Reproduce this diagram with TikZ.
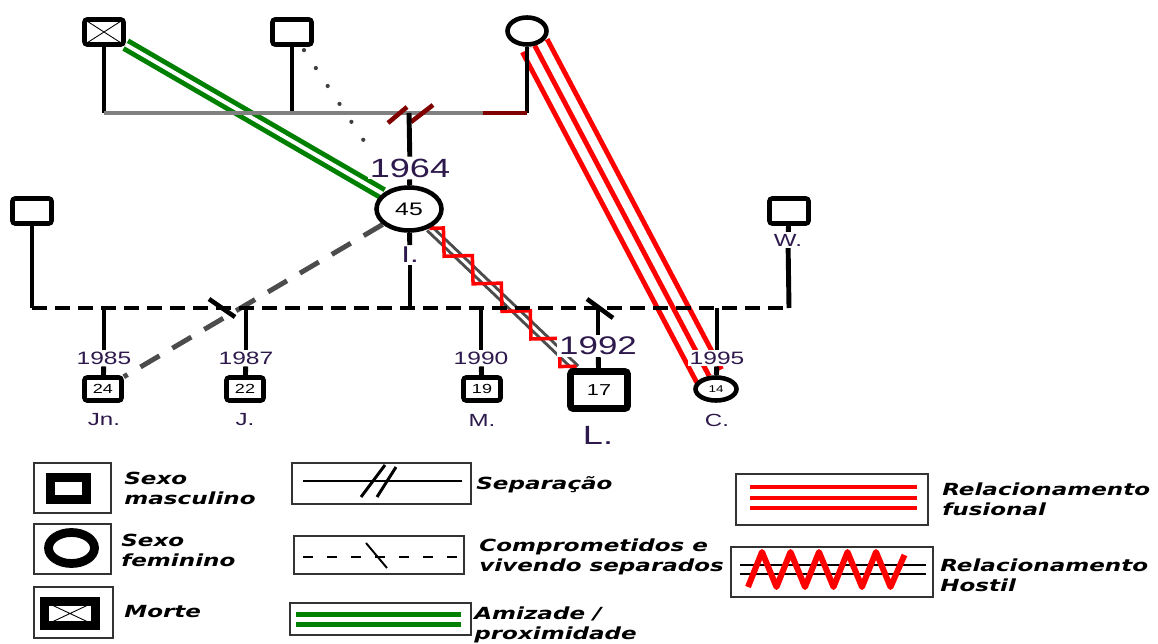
\documentclass[tikz,border=0pt]{standalone}
\usepackage{fontspec}
\setmainfont{Liberation Sans}[FakeStretch=1.37]
\newfontfamily\legendfont{DejaVu Sans}[FakeStretch=1.38]
\usetikzlibrary{shapes.geometric,decorations.pathmorphing,backgrounds}
\definecolor{yeartext}{RGB}{45,25,75}
\definecolor{sepred}{RGB}{128,0,0}

\begin{document}
\begin{tikzpicture}[
    x=0.02cm, y=-0.02cm,
    famline/.style={line width=2.8pt},
    dashline/.style={famline, dash pattern=on 0.3cm off 0.16cm},
    sepmark/.style={line width=2.6pt},
    xcross/.style={path picture={\draw[line width=0.5pt] (path picture bounding box.north west) -- (path picture bounding box.south east) (path picture bounding box.south west) -- (path picture bounding box.north east);}},
    person/.style={draw, line width=2.6pt, fill=white, inner sep=0pt},
    male/.style={person, rectangle, rounded corners=1.5pt, minimum width=0.78cm, minimum height=0.5cm},
    kid/.style={male, minimum width=0.74cm, minimum height=0.46cm, font=\fontsize{7.5}{7.5}\selectfont},
    female/.style={person, ellipse},
    dead/.style={male, xcross},
    year/.style={fill=white, inner sep=1pt, text=yeartext, font=\fontsize{10.2}{10.2}\selectfont},
    lbl/.style={inner sep=1pt, text=yeartext, font=\fontsize{10}{10}\selectfont},
    friend/.style={green!50!black, line width=2.8pt, double=white, double distance=2.2pt},
    dotline/.style={black!75, line width=2.4pt, line cap=round, dash pattern=on 0pt off 0.43cm},
    fusional/.style={red, line width=18.7pt, postaction={draw, white, line width=13pt}, postaction={draw, red, line width=2.8pt}},
    affair/.style={black!70, line width=2.8pt, dash pattern=on 0.44cm off 0.3cm},
    hostile/.style={black!70, line width=1.7pt, double=white, double distance=1.7pt},
    hostzz/.style={red, line width=2pt, decorate, decoration={zigzag, amplitude=0.2cm, segment length=0.8cm}},
    legbox/.style={draw=black!80, line width=0.8pt, inner sep=0pt},
    legsym/.style={draw, line width=5pt, fill=white, inner sep=0pt},
    legtext/.style={anchor=west, align=left, inner sep=0pt, font=\legendfont\bfseries\itshape\fontsize{9.5}{11.3}\selectfont}
]
    \useasboundingbox (0,0) rectangle (1158,644);

    % Grandparents
    \node[dead] (gf1) at (104,32) {};
    \node[male] (gf2) at (292,32) {};
    \node[female, minimum width=0.78cm, minimum height=0.54cm] (gm) at (527,31) {};

    % Parents
    \node[year, font=\fontsize{15}{15}\selectfont] (y64) at (410,168) {1964};
    \node[female, minimum width=1.3cm, minimum height=0.86cm, font=\fontsize{10.3}{10.3}\selectfont] (i) at (409,209) {45};
    \node[lbl, font=\fontsize{13}{13}\selectfont] (li) at (410,255) {I.};
    \node[male] (h1) at (32,211) {};
    \node[male] (h2) at (789,211) {};
    \node[lbl] (lw) at (788,240) {W.};

    % Children
    \node[year] (y85) at (104,358) {1985};
    \node[kid] (jn) at (103,389) {24};
    \node[lbl] (ljn) at (104,420) {Jn.};
    \node[year] (y87) at (246,358) {1987};
    \node[kid] (j) at (245,389) {22};
    \node[lbl] (lj) at (245,420) {J.};
    \node[year] (y90) at (481,358) {1990};
    \node[kid] (m) at (482,389) {19};
    \node[lbl] (lm) at (482,420) {M.};
    \node[year, font=\fontsize{14.5}{14.5}\selectfont] (y92) at (598,346) {1992};
    \node[male, line width=3.8pt, minimum width=1.14cm, minimum height=0.74cm, font=\fontsize{9}{9}\selectfont] (l) at (599,390) {17};
    \node[lbl, font=\fontsize{15}{15}\selectfont] (ll) at (598,435) {L.};
    \node[year] (y95) at (717,358) {1995};
    \node[female, minimum width=0.82cm, minimum height=0.46cm, font=\fontsize{5.6}{5.6}\selectfont] (c) at (716,389) {14};
    \node[lbl] (lc) at (717,420) {C.};

    \coordinate (m1) at (409,113);
    \coordinate (m1red) at (483,113);
    \coordinate (m2) at (410,308);
    \coordinate (sep2a) at (222,308);
    \coordinate (sep2b) at (598,308);

    % First marriage
    \draw[famline] (gf1) -- (gf1 |- m1);
    \draw[famline] (gf2) -- (gf2 |- m1);
    \draw[famline] (gm) -- (gm |- m1);
    \draw[famline, gray] (gf1 |- m1) -- (m1red);
    \draw[famline, sepred] (m1red) -- (gm |- m1);
    \draw[sepmark, sepred] ([shift={(-21,10)}]m1) -- ([shift={(-2,-6)}]m1);
    \draw[sepmark, sepred] ([shift={(2,9)}]m1) -- ([shift={(24,-8)}]m1);
    \draw[famline] (m1) -- (y64);
    \draw[famline] (y64) -- (i);

    % Second generation
    \draw[famline] (h1) -- (h1 |- m2);
    \draw[famline] (i) -- (li);
    \draw[famline] (li) -- (m2);
    \draw[famline] (h2) -- (lw);
    \draw[famline] (lw) -- (h2 |- m2);
    \draw[dashline] (h1 |- m2) -- (h2 |- m2);
    \draw[sepmark] ([shift={(-13,-9)}]sep2a) -- ([shift={(13,9)}]sep2a);
    \draw[sepmark] ([shift={(-11,-9)}]sep2b) -- ([shift={(15,10)}]sep2b);
    \foreach \yr/\kd in {y85/jn, y87/j, y90/m, y92/l, y95/c} {
        \draw[famline] (\yr |- m2) -- (\yr);
        \draw[famline] (\yr) -- (\kd);
    }

    % Relationships
    \begin{scope}[on background layer]
        \fill[white] (0,0) rectangle (1158,644);
        \draw[friend] (gf1) -- (i);
        \draw[dotline, shorten <=0.08cm, shorten >=1.1cm] (gf2) -- (i);
        \draw[fusional] (gm) -- (c);
        \draw[affair] (i) -- (jn);
        \draw[hostile] (i) -- (l);
        \draw[hostzz] (i) -- (l);
    \end{scope}

    % Legend
    \node[legbox, minimum width=1.54cm, minimum height=1.0cm] (lb1) at (72.5,488) {};
    \node[legsym, minimum width=0.72cm, minimum height=0.44cm] (sm) at (68.5,488.5) {};
    \node[legtext] (t1) at (124,488) {Sexo\\masculino};
    \node[legbox, minimum width=1.54cm, minimum height=1.0cm] (lb2) at (72.5,549) {};
    \node[legsym, ellipse, minimum width=0.92cm, minimum height=0.62cm] (sf) at (71.5,548) {};
    \node[legtext] (t2) at (121,550) {Sexo\\feminino};
    \node[legbox, minimum width=1.58cm, minimum height=1.02cm] (lb3) at (73.5,612.5) {};
    \node[legsym, xcross, minimum width=1.02cm, minimum height=0.48cm] (sd) at (70,613.5) {};
    \node[legtext] (t3) at (124,612) {Morte};

    \node[legbox, minimum width=3.58cm, minimum height=0.82cm] (lb4) at (381.5,483.5) {};
    \draw[line width=1.7pt] (303,481) -- (462,481);
    \draw[line width=1.7pt] (361,497) -- (385,465) (377,497) -- (396,467);
    \node[legtext] (t4) at (476,485) {Separação};
    \node[legbox, minimum width=3.4cm, minimum height=0.76cm] (lb5) at (379,555) {};
    \draw[line width=1.1pt, dash pattern=on 0.2cm off 0.28cm] (303,557) -- (457,557);
    \draw[line width=1.1pt] (366,543) -- (387,568);
    \node[legtext] (t5) at (479,557) {Comprometidos e\\vivendo separados};
    \node[legbox, minimum width=3.62cm, minimum height=0.64cm] (lb6) at (380.5,619) {};
    \draw[friend, double distance=3.4pt] (296,619.5) -- (461,619.5);
    \node[legtext] (t6) at (474,625) {Amizade /\\proximidade};

    \node[legbox, minimum width=3.84cm, minimum height=1.02cm] (lb7) at (832,499.5) {};
    \foreach \yy in {487,498,508}
        \draw[red, line width=2.8pt] (750,\yy) -- (917,\yy);
    \node[legtext] (t7) at (942,499) {Relacionamento\\fusional};
    \node[legbox, minimum width=4.04cm, minimum height=1.0cm] (lb8) at (832,572) {};
    \draw[line width=1.7pt] (740,565) -- (926,565) (740,574) -- (926,574);
    \draw[red, line width=3.4pt, line join=round] (748,587) \foreach \k in {1,...,5} { -- ++(14,-35) -- ++(14.5,35) } -- ++(14,-32);
    \node[legtext] (t8) at (940,575) {Relacionamento\\Hostil};
\end{tikzpicture}
\end{document}
